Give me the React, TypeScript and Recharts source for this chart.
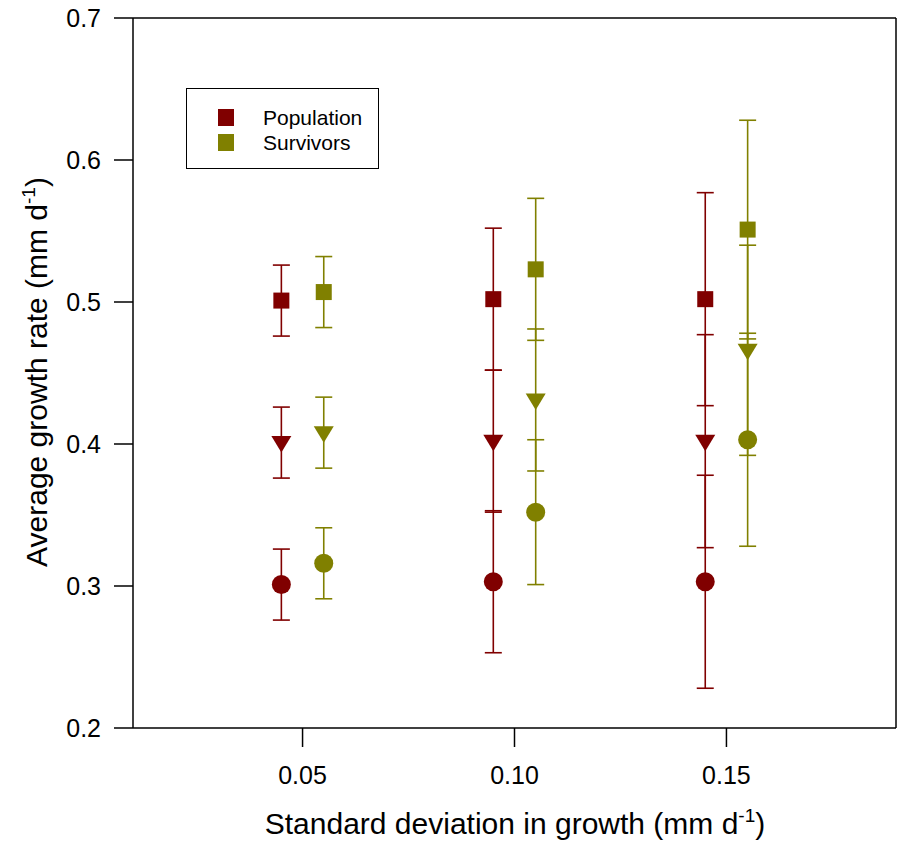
import { ScatterChart, Scatter, XAxis, YAxis, ErrorBar, ReferenceLine } from 'recharts'

const xPopulation = [0.045, 0.095, 0.145]
const xSurvivors = [0.055, 0.105, 0.155]

const popSquare = [0.501, 0.502, 0.502]
const popSquareErr = [0.025, 0.05, 0.075]
const popTriangle = [0.401, 0.402, 0.402]
const popTriangleErr = [0.025, 0.05, 0.075]
const popCircle = [0.301, 0.303, 0.303]
const popCircleErr = [0.025, 0.05, 0.075]

const survSquare = [0.507, 0.523, 0.551]
const survSquareErr = [0.025, 0.05, 0.077]
const survTriangle = [0.408, 0.431, 0.466]
const survTriangleErr = [0.025, 0.05, 0.074]
const survCircle = [0.316, 0.352, 0.403]
const survCircleErr = [0.025, 0.051, 0.075]

const xTicks = [0.05, 0.1, 0.15]
const yTicks = [0.2, 0.3, 0.4, 0.5, 0.6, 0.7]

const legendItems = [
  { name: 'Population', color: '#800000' },
  { name: 'Survivors', color: '#808000' },
]

const RED = '#800000'
const OLIVE = '#808000'
const FONT = 'Arial, "Liberation Sans", sans-serif'

const makePoints = (xs: number[], ys: number[], errs: number[]) =>
  xs.map((x, i) => ({ x, y: ys[i], err: errs[i] }))

const Square = ({ cx, cy, fill }: any) => (
  <rect x={cx - 8} y={cy - 8} width={16} height={16} fill={fill} />
)

const Circle = ({ cx, cy, fill }: any) => <circle cx={cx} cy={cy} r={9.5} fill={fill} />

const TriangleDown = ({ cx, cy, fill }: any) => (
  <polygon points={`${cx - 10},${cy - 6.5} ${cx + 10},${cy - 6.5} ${cx},${cy + 10}`} fill={fill} />
)

const XLabel = () => (
  <text x={515} y={834} textAnchor="middle" fontSize={30} fontFamily={FONT} fill="#000">
    Standard deviation in growth (mm d
    <tspan dy={-12} fontSize={19}>-1</tspan>
    <tspan dy={12}>)</tspan>
  </text>
)

const YLabel = () => (
  <text
    x={0}
    y={0}
    transform="translate(47, 372) rotate(-90)"
    textAnchor="middle"
    fontSize={30}
    fontFamily={FONT}
    fill="#000"
  >
    Average growth rate (mm d
    <tspan dy={-12} fontSize={19}>-1</tspan>
    <tspan dy={12}>)</tspan>
  </text>
)

const series = [
  { data: makePoints(xPopulation, popSquare, popSquareErr), color: RED, shape: Square },
  { data: makePoints(xPopulation, popTriangle, popTriangleErr), color: RED, shape: TriangleDown },
  { data: makePoints(xPopulation, popCircle, popCircleErr), color: RED, shape: Circle },
  { data: makePoints(xSurvivors, survSquare, survSquareErr), color: OLIVE, shape: Square },
  { data: makePoints(xSurvivors, survTriangle, survTriangleErr), color: OLIVE, shape: TriangleDown },
  { data: makePoints(xSurvivors, survCircle, survCircleErr), color: OLIVE, shape: Circle },
]

export default function App() {
  return (
    <div style={{ position: 'absolute', left: 0, top: 0, width: 899, height: 845, background: '#fff' }}>
      <ScatterChart width={899} height={845} margin={{ top: 18, right: 3, bottom: 0, left: 0 }}>
        <XAxis
          type="number"
          dataKey="x"
          domain={[0.01, 0.19]}
          ticks={xTicks}
          tickFormatter={(v: number) => v.toFixed(2)}
          height={117}
          tickSize={19}
          tickMargin={19}
          stroke="#000"
          strokeWidth={1.5}
          tick={{ fill: '#000', fontSize: 25, fontFamily: FONT }}
          label={XLabel}
        />
        <YAxis
          type="number"
          dataKey="y"
          domain={[0.2, 0.7]}
          ticks={yTicks}
          tickFormatter={(v: number) => v.toFixed(1)}
          width={133}
          tickSize={19}
          tickMargin={13}
          stroke="#000"
          strokeWidth={1.5}
          tick={{ fill: '#000', fontSize: 25, fontFamily: FONT }}
          label={YLabel}
        />
        <ReferenceLine y={0.7} stroke="#000" strokeWidth={1.5} />
        <ReferenceLine x={0.19} stroke="#000" strokeWidth={1.5} />
        {series.map((s, i) => (
          <Scatter
            key={i}
            data={s.data}
            fill={s.color}
            shape={s.shape}
            isAnimationActive={false}
          >
            <ErrorBar dataKey="err" direction="y" width={8.5} stroke={s.color} strokeWidth={1.6} />
          </Scatter>
        ))}
      </ScatterChart>

      {/* legend box drawn over the plot area */}
      <div
        style={{
          position: 'absolute',
          left: 186,
          top: 88,
          width: 193,
          height: 81,
          border: '1.5px solid #000',
          boxSizing: 'border-box',
          background: '#fff',
          fontFamily: FONT,
          fontSize: 21,
          paddingTop: 16,
        }}
      >
        {legendItems.map((item) => (
          <div key={item.name} style={{ display: 'flex', alignItems: 'center', height: 25 }}>
            <span
              style={{ display: 'inline-block', width: 16, height: 17, background: item.color, marginLeft: 31 }}
            />
            <span style={{ marginLeft: 29 }}>{item.name}</span>
          </div>
        ))}
      </div>
    </div>
  )
}
